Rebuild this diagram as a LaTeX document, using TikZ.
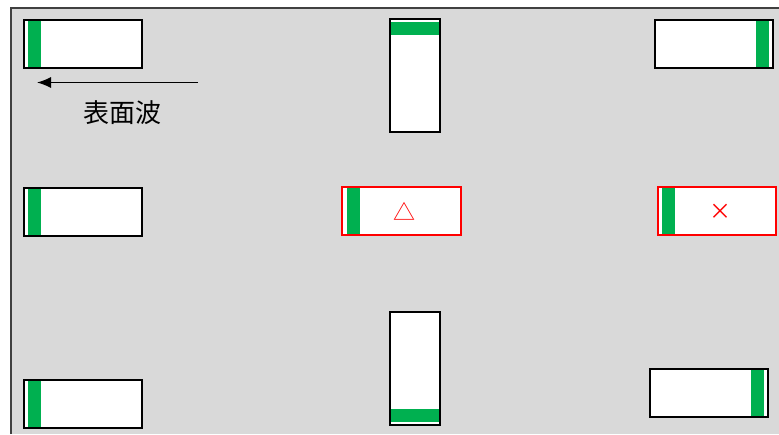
\documentclass[tikz,border=0pt]{standalone}
\usepackage{fontspec}
\newfontfamily\cjk{Noto Sans CJK JP}
\usetikzlibrary{arrows.meta}
\definecolor{bgcolor}{RGB}{217,217,217}
\definecolor{framecolor}{RGB}{64,64,64}
\definecolor{gaugecolor}{RGB}{0,176,80}
\definecolor{alertcolor}{RGB}{255,0,0}

\tikzset{
  padH/.style={draw=black, line width=2.2pt, fill=white, inner sep=0pt,
    minimum width=118pt, minimum height=48pt, anchor=north west},
  padV/.style={padH, minimum width=50pt, minimum height=113pt},
  alertpad/.style={padH, draw=alertcolor},
  % green strip on one side of a pad
  gaugeL/.style={path picture={\fill[gaugecolor]
    ([xshift=#1]path picture bounding box.north west) rectangle
    ([xshift=#1+13pt]path picture bounding box.south west);}},
  gaugeR/.style={path picture={\fill[gaugecolor]
    ([xshift=-#1]path picture bounding box.north east) rectangle
    ([xshift=-#1-13pt]path picture bounding box.south east);}},
  gaugeT/.style={path picture={\fill[gaugecolor]
    ([yshift=-#1]path picture bounding box.north west) rectangle
    ([yshift=-#1-13pt]path picture bounding box.north east);}},
  gaugeB/.style={path picture={\fill[gaugecolor]
    ([yshift=#1]path picture bounding box.south west) rectangle
    ([yshift=#1+13pt]path picture bounding box.south east);}},
  gaugeL/.default=3.5pt, gaugeR/.default=4pt,
  gaugeT/.default=3.5pt, gaugeB/.default=3.5pt,
  sign/.style={text=alertcolor, font=\cjk\fontsize{22}{22}\selectfont, inner sep=0pt}
}

\begin{document}
\begin{tikzpicture}[x=1pt, y=-1pt, >=Latex]
  \useasboundingbox (0,0) rectangle (779,434);

  % ---- background ----
  \fill[bgcolor] (11,8) rectangle (779,434);
  \draw[framecolor, line width=1.3pt] (11,434) |- (779,8);

  % ---- left column ----
  \foreach \n/\y in {tl/18.5, ml/187, bl/378.5} {
    \node[padH, gaugeL] (\n) at (23,\y) {};
  }

  % wave direction
  \coordinate (waveR) at (198,82.5);
  \coordinate (waveL) at (37,82.5);
  \draw[line width=1.2pt, -{Latex[length=14pt, width=11pt]}] (waveR) -- (waveL);
  \node[font=\cjk\fontsize{26}{26}\selectfont, inner sep=0pt] (wave) at (122,112.5) {表面波};

  % ---- centre column ----
  \node[padV, gaugeT] (tc) at (388.5,17.5) {};
  \node[padV, gaugeB] (bc) at (388.5,311) {};
  \node[alertpad, minimum width=119pt, gaugeL=5pt] (mc) at (341,185.5) {};
  \node[sign] (tri) at (404.5,211) {△};

  % ---- right column ----
  \node[padH, gaugeR] (tr) at (653.5,18.5) {};
  \node[alertpad, gaugeL=4.3pt] (mr) at (656.5,185.5) {};
  \node[sign] (cross) at (720,211.5) {×};
  \node[padH, gaugeR] (br) at (649,367.5) {};

\end{tikzpicture}
\end{document}
